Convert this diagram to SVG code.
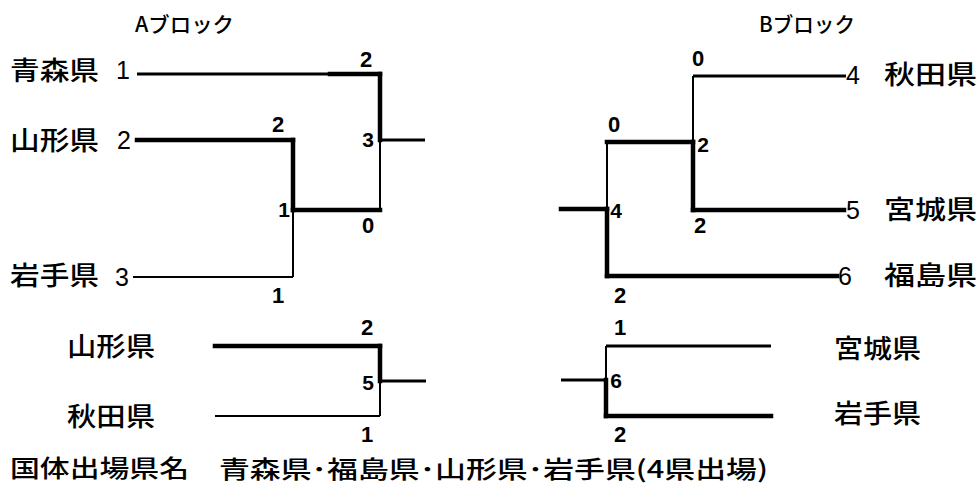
<svg xmlns="http://www.w3.org/2000/svg" width="978" height="494" viewBox="0 0 978 494">
<style>
.name{font-family:"Noto Sans CJK JP","Noto Sans CJK SC",sans-serif;font-size:26px;font-weight:500;fill:#000}
.hdr{font-family:"Noto Sans CJK JP","Noto Sans CJK SC",sans-serif;font-size:21px;font-weight:500;fill:#000}
.seed{font-family:"Liberation Sans",Arial,sans-serif;font-size:25px;fill:#000}
.score{font-family:"Liberation Sans",Arial,sans-serif;font-size:22px;font-weight:bold;fill:#000;text-anchor:middle}
.match{font-family:"Liberation Sans",Arial,sans-serif;font-size:21px;font-weight:bold;fill:#000;text-anchor:middle}
.thick{stroke:#000;stroke-width:4.5;fill:none;stroke-linecap:square}
.mid{stroke:#000;stroke-width:3;fill:none}
.thin{stroke:#000;stroke-width:2;fill:none}
</style>
<rect width="978" height="494" fill="#fff"/>

<g id="headers">
  <text id="blockA" class="hdr" x="135" y="32" textLength="99" lengthAdjust="spacingAndGlyphs">Aブロック</text>
  <text id="blockB" class="hdr" x="759" y="32" textLength="96" lengthAdjust="spacingAndGlyphs">Bブロック</text>
</g>

<g id="connectors">
  <!-- Block A -->
  <line class="mid" x1="137" y1="74" x2="330" y2="74"/>
  <line class="thick" x1="330" y1="74" x2="380" y2="74"/>
  <line class="thick" x1="380" y1="74" x2="380" y2="140"/>
  <line class="thin" x1="380" y1="140" x2="380" y2="210"/>
  <line class="mid" x1="380" y1="140" x2="425" y2="140"/>
  <line class="thick" x1="137" y1="140" x2="293" y2="140"/>
  <line class="thick" x1="293" y1="140" x2="293" y2="210"/>
  <line class="thin" x1="293" y1="210" x2="293" y2="277"/>
  <line class="thick" x1="293" y1="210" x2="380" y2="210"/>
  <line class="thin" x1="133" y1="277" x2="293" y2="277"/>
  <!-- Block B -->
  <line class="mid" x1="693" y1="76" x2="846" y2="76"/>
  <line class="thin" x1="693" y1="76" x2="693" y2="142"/>
  <line class="thick" x1="693" y1="142" x2="693" y2="210"/>
  <line class="thick" x1="693" y1="210" x2="844" y2="210"/>
  <line class="thick" x1="607" y1="142" x2="693" y2="142"/>
  <line class="thin" x1="607" y1="142" x2="607" y2="209"/>
  <line class="thick" x1="607" y1="209" x2="607" y2="276"/>
  <line class="thick" x1="607" y1="276" x2="837" y2="276"/>
  <line class="thick" x1="561" y1="209" x2="607" y2="209"/>
  <!-- Match 5 -->
  <line class="thick" x1="215" y1="346" x2="380" y2="346"/>
  <line class="thick" x1="380" y1="346" x2="380" y2="381"/>
  <line class="thin" x1="380" y1="381" x2="380" y2="416"/>
  <line class="thin" x1="215" y1="416" x2="380" y2="416"/>
  <line class="mid" x1="380" y1="381" x2="426" y2="381"/>
  <!-- Match 6 -->
  <line class="mid" x1="606" y1="346" x2="771" y2="346"/>
  <line class="thin" x1="606" y1="346" x2="606" y2="380"/>
  <line class="thick" x1="606" y1="380" x2="606" y2="416"/>
  <line class="thick" x1="606" y1="416" x2="771" y2="416"/>
  <line class="mid" x1="561" y1="380" x2="606" y2="380"/>
</g>

<g id="team-aomori">
  <text class="name" x="10" y="80" textLength="89" lengthAdjust="spacingAndGlyphs">青森県</text>
  <text class="seed" x="130" y="79" text-anchor="end">1</text>
</g>
<g id="team-yamagata">
  <text class="name" x="10" y="150" textLength="89" lengthAdjust="spacingAndGlyphs">山形県</text>
  <text class="seed" x="131" y="149" text-anchor="end">2</text>
</g>
<g id="team-iwate">
  <text class="name" x="10" y="285" textLength="89" lengthAdjust="spacingAndGlyphs">岩手県</text>
  <text class="seed" x="129" y="286" text-anchor="end">3</text>
</g>
<g id="team-akita">
  <text class="seed" x="846" y="84">4</text>
  <text class="name" x="884" y="84" textLength="93" lengthAdjust="spacingAndGlyphs">秋田県</text>
</g>
<g id="team-miyagi">
  <text class="seed" x="846" y="219">5</text>
  <text class="name" x="884" y="219" textLength="93" lengthAdjust="spacingAndGlyphs">宮城県</text>
</g>
<g id="team-fukushima">
  <text class="seed" x="838" y="285">6</text>
  <text class="name" x="884" y="285" textLength="93" lengthAdjust="spacingAndGlyphs">福島県</text>
</g>

<g id="match-1">
  <text class="match" x="284" y="217">1</text>
  <text class="score" x="278" y="132">2</text>
  <text class="score" x="278" y="303">1</text>
</g>
<g id="match-3">
  <text class="match" x="368" y="147">3</text>
  <text class="score" x="366" y="67">2</text>
  <text class="score" x="368" y="233">0</text>
</g>
<g id="match-2">
  <text class="match" x="703" y="152">2</text>
  <text class="score" x="698" y="66">0</text>
  <text class="score" x="700" y="233">2</text>
</g>
<g id="match-4">
  <text class="match" x="616" y="218">4</text>
  <text class="score" x="614" y="132">0</text>
  <text class="score" x="620" y="303">2</text>
</g>
<g id="match-5">
  <text class="name" x="67" y="356" textLength="88" lengthAdjust="spacingAndGlyphs">山形県</text>
  <text class="name" x="67" y="426" textLength="88" lengthAdjust="spacingAndGlyphs">秋田県</text>
  <text class="score" x="367" y="335">2</text>
  <text class="match" x="368" y="390">5</text>
  <text class="score" x="367" y="442">1</text>
</g>
<g id="match-6">
  <text class="name" x="834" y="358" textLength="87" lengthAdjust="spacingAndGlyphs">宮城県</text>
  <text class="name" x="834" y="423" textLength="87" lengthAdjust="spacingAndGlyphs">岩手県</text>
  <text class="score" x="620" y="335">1</text>
  <text class="match" x="616" y="388">6</text>
  <text class="score" x="620" y="442">2</text>
</g>

<g id="footer">
  <text class="name" style="font-size:24px" x="10" y="477" textLength="179" lengthAdjust="spacingAndGlyphs">国体出場県名</text>
  <text class="name" style="font-size:24px" x="219" y="478" textLength="549" lengthAdjust="spacingAndGlyphs">青森県･福島県･山形県･岩手県(4県出場)</text>
</g>
</svg>
